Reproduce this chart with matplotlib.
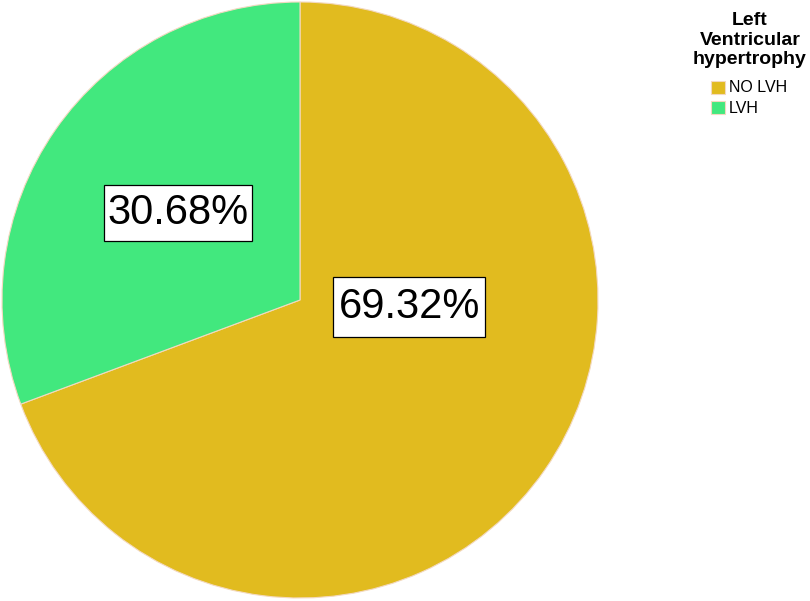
import matplotlib
matplotlib.use("Agg")
import matplotlib.pyplot as plt
from matplotlib.patches import Rectangle

plt.rcParams['font.family'] = ['Liberation Sans', 'DejaVu Sans']

categories = ["NO LVH", "LVH"]
percentages = [69.32, 30.68]
colors = ["#E1BB1F", "#42E87E"]
label_texts = ["69.32%", "30.68%"]
legend_title = "Left\nVentricular\nhypertrophy"

W, H = 810, 601
fig = plt.figure(figsize=(W / 100, H / 100), dpi=100)
ax = fig.add_axes([2 / W, 3 / H, 596 / W, 596 / H])
wedges, _ = ax.pie(percentages, colors=colors, startangle=90, counterclock=False,
                   radius=1.0, wedgeprops=dict(edgecolor="#F3D9C0", linewidth=0.8))
ax.set_xlim(-1.0, 1.0)
ax.set_ylim(-1.0, 1.0)
ax.set_aspect('equal')
ax.axis('off')

# label boxes (positions in pie data units, radius = 1)
label_pos = [(0.366, -0.024), (-0.409, 0.292)]
box_w, box_h = [0.510, 0.497], [0.201, 0.191]
for txt, (x, y), bw, bh in zip(label_texts, label_pos, box_w, box_h):
    ax.add_patch(Rectangle((x - bw / 2, y - bh / 2), bw, bh, facecolor='white',
                           edgecolor='black', linewidth=0.9, zorder=3))
    ax.text(x, y, txt, ha='center', va='center', fontsize=30, zorder=4)

# legend drawn manually in figure pixel positions
fig.text(750 / W, 1 - 12 / H, legend_title, ha='center', va='top', fontsize=14,
         fontweight='bold', linespacing=1.2)
for i, (cat, c) in enumerate(zip(categories, colors)):
    top = 81 + 20 * i
    fig.patches.append(Rectangle((711 / W, 1 - (top + 13) / H), 14 / W, 13 / H,
                                 facecolor=c, edgecolor="#F3D9C0", linewidth=0.8,
                                 transform=fig.transFigure, figure=fig))
    fig.text(729 / W, 1 - (top + 7) / H, cat, ha='left', va='center', fontsize=11.5)

fig.savefig("out.png", dpi=100, facecolor='white')
